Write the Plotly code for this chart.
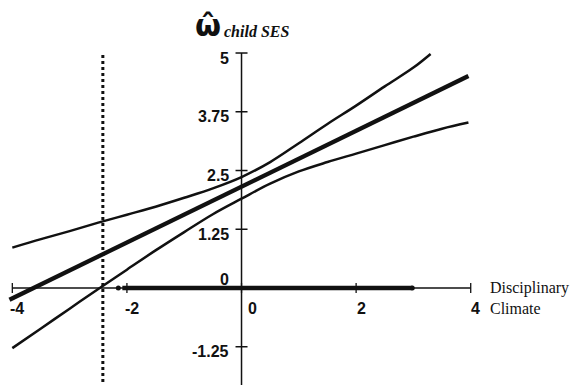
import plotly.graph_objects as go

# Data
band_x = [-4.0, -3.5, -3.0, -2.5, -2.0, -1.5, -1.0, -0.5, 0.0, 0.5, 1.0, 1.5, 2.0, 2.5, 3.0, 3.3]
upper_y = [0.86, 1.04, 1.21, 1.39, 1.56, 1.73, 1.92, 2.12, 2.36, 2.68, 3.08, 3.49, 3.88, 4.29, 4.69, 4.98]
lower_x = [-4.0, -3.5, -3.0, -2.5, -2.0, -1.5, -1.0, -0.5, 0.0, 0.5, 1.0, 1.5, 2.0, 2.5, 3.0, 3.5, 3.96]
lower_y = [-1.28, -0.86, -0.44, -0.02, 0.39, 0.80, 1.19, 1.57, 1.90, 2.22, 2.48, 2.68, 2.86, 3.04, 3.22, 3.39, 3.52]
center_x = [-4.05, 3.96]
center_y = [-0.25, 4.51]

range_x = [-2.15, 2.98]        # observed data range (thick bar on x axis)
region_x = -2.42               # region-of-significance boundary (dotted)

x_ticks = [-4, -2, 0, 2, 4]
x_tick_labels = ["-4", "-2", "0", "2", "4"]
y_ticks = [5, 3.75, 2.5, 1.25, 0, -1.25]
y_tick_labels = ["5", "3.75", "2.5", "1.25", "0", "-1.25"]

X_RANGE = [-4.215, 5.942]
Y_RANGE = [-2.064, 6.128]

fig = go.Figure()
line_col = "#111111"

fig.add_trace(go.Scatter(x=band_x, y=upper_y, mode="lines", line_shape="spline",
                         line=dict(color=line_col, width=2.5), hoverinfo="skip"))
fig.add_trace(go.Scatter(x=lower_x, y=lower_y, mode="lines", line_shape="spline",
                         line=dict(color=line_col, width=2.5), hoverinfo="skip"))
fig.add_trace(go.Scatter(x=center_x, y=center_y, mode="lines",
                         line=dict(color=line_col, width=4.3), hoverinfo="skip"))

shapes = []
# x axis
shapes.append(dict(type="line", xref="x", yref="y", x0=x_ticks[0], x1=x_ticks[-1], y0=0, y1=0,
                   line=dict(color=line_col, width=1.3)))
# y axis
shapes.append(dict(type="line", xref="x", yref="y", x0=0, x1=0, y0=y_ticks[0], y1=Y_RANGE[0],
                   line=dict(color=line_col, width=1.5)))
# thick observed-range bar
shapes.append(dict(type="line", xref="x", yref="y", x0=range_x[0] + 0.07, x1=range_x[1], y0=0, y1=0,
                   line=dict(color=line_col, width=4.5)))
# dotted vertical
shapes.append(dict(type="line", xref="x", yref="y", x0=region_x, x1=region_x, y0=4.96, y1=Y_RANGE[0],
                   line=dict(color=line_col, width=3, dash="dot")))
# tick marks (pixel-sized)
for t in x_ticks:
    shapes.append(dict(type="line", xref="x", yref="y",
                       ysizemode="pixel", yanchor=0, x0=t, x1=t, y0=-5, y1=5,
                       line=dict(color=line_col, width=1.3)))
for t in y_ticks:
    shapes.append(dict(type="line", xref="x", yref="y", xsizemode="pixel",
                       xanchor=0, x0=-6, x1=6, y0=t, y1=t,
                       line=dict(color=line_col, width=1.5)))

# end markers of observed range
fig.add_trace(go.Scatter(x=range_x, y=[0, 0], mode="markers",
                         marker=dict(color=line_col, size=5), hoverinfo="skip"))

ann = []
tick_font = dict(family="Liberation Sans, Arial, sans-serif", size=16, color=line_col)
for t, lab in zip(x_ticks, x_tick_labels):
    xs = 11 if t == 0 else 5
    ann.append(dict(x=t, y=0, xref="x", yref="y", text="<b>%s</b>" % lab, showarrow=False,
                    xanchor="center", yanchor="middle", xshift=xs, yshift=-20, font=tick_font))
for t, lab in zip(y_ticks, y_tick_labels):
    ys = 9 if t == 0 else -5
    ann.append(dict(x=0, y=t, xref="x", yref="y", text="<b>%s</b>" % lab, showarrow=False,
                    xanchor="right", yanchor="middle", xshift=-11, yshift=ys, font=tick_font))

serif = "Liberation Serif, Times New Roman, serif"
ann.append(dict(x=0, y=0, xref="x", yref="y", text="Disciplinary<br>Climate", showarrow=False,
                xanchor="left", yanchor="middle", xshift=246, yshift=-10, align="left",
                font=dict(family=serif, size=16, color=line_col)))
ann.append(dict(x=0, y=5, xref="x", yref="y", text="<b>ω\u0302</b>", showarrow=False,
                xanchor="center", yanchor="bottom", xshift=-34, yshift=8,
                font=dict(family="DejaVu Sans, sans-serif", size=30, color=line_col)))
ann.append(dict(x=0, y=5, xref="x", yref="y", text="<b><i>child SES</i></b>", showarrow=False,
                xanchor="left", yanchor="bottom", xshift=-20, yshift=11,
                font=dict(family=serif, size=16, color=line_col)))

fig.update_layout(
    shapes=shapes,
    annotations=ann,
    width=582, height=385,
    margin=dict(l=0, r=0, t=0, b=0),
    paper_bgcolor="white", plot_bgcolor="white",
    showlegend=False,
    xaxis=dict(range=X_RANGE, visible=False, fixedrange=True),
    yaxis=dict(range=Y_RANGE, visible=False, fixedrange=True),
)

fig.write_html("out.html", config={"displayModeBar": False},
               post_script="document.body.style.margin='0px';")
